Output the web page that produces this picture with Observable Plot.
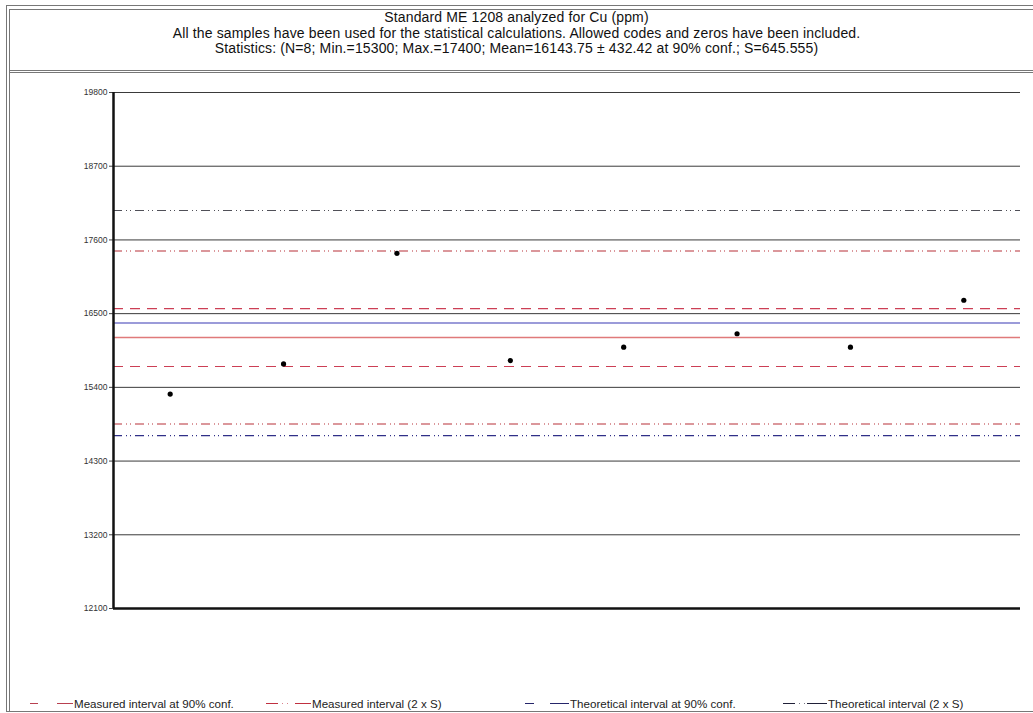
<!DOCTYPE html>
<html>
<head>
<meta charset="utf-8">
<script src="https://cdn.jsdelivr.net/npm/d3@7"></script>
<script src="https://cdn.jsdelivr.net/npm/@observablehq/plot@0.6"></script>
<style>
  html, body { margin: 0; padding: 0; background: #fff; }
  body { width: 1033px; height: 713px; position: relative; overflow: hidden; font-family: "Liberation Sans", Arial, sans-serif; }
  .hl { position: absolute; height: 0; border-top: 1px solid #777; }
  .vl { position: absolute; width: 0; border-left: 1px solid #777; }
  #title { position: absolute; left: 0; width: 1033px; top: 10px; text-align: center; font-size: 14px; line-height: 15.5px; letter-spacing: 0.14px; color: #111; }
  #chart { position: absolute; left: 0; top: 0; }
  .leg { position: absolute; top: 695px; font-size: 11.6px; color: #222; display: flex; align-items: center; white-space: nowrap; }
  .leg svg { display: block; }
</style>
</head>
<body>
<div id="chart"></div>
<div class="hl" style="left:6px; width:1030px; top:5px;"></div>
<div class="hl" style="left:9px; width:1030px; top:9px;"></div>
<div class="hl" style="left:9px; width:1030px; top:70px;"></div>
<div class="hl" style="left:9px; width:1030px; top:72px;"></div>
<div class="hl" style="left:6px; width:1030px; top:711px;"></div>
<div class="vl" style="left:6px; top:5px; height:706px;"></div>
<div class="vl" style="left:9px; top:9px; height:702px;"></div>
<div id="title"></div>
<div id="legend"></div>
<script>
// ---- Data ----
const titleLines = [
  "Standard ME 1208 analyzed for Cu (ppm)",
  "All the samples have been used for the statistical calculations. Allowed codes and zeros have been included.",
  "Statistics: (N=8; Min.=15300; Max.=17400; Mean=16143.75 \u00b1 432.42 at 90% conf.; S=645.555)"
];
const sampleIndex = [1, 2, 3, 4, 5, 6, 7, 8];
const sampleValues = [15300, 15750, 17400, 15800, 16000, 16200, 16000, 16700];
const yTicks = [12100, 13200, 14300, 15400, 16500, 17600, 18700, 19800];

const refNames  = ["Measured mean", "Measured 90% upper", "Measured 90% lower", "Measured 2S upper", "Measured 2S lower",
                   "Theoretical value", "Theoretical 2S upper", "Theoretical 2S lower"];
const refValues = [16143.75, 16576.17, 15711.33, 17434.86, 14852.64, 16360, 18040, 14680];
const refKinds  = ["mean", "ci", "ci", "s2", "s2", "tmean", "t2up", "t2low"];

const legendLabels = ["Measured interval at 90% conf.", "Measured interval (2 x S)", "Theoretical interval at 90% conf.", "Theoretical interval (2 x S)"];

// ---- Styles ----
const kindStroke = {mean: "#e07a7a", ci: "#cc3f55", s2: "#b83038", tmean: "#7a7acc", t2up: "#505058", t2low: "#303088"};
const kindDash = {mean: null, ci: "10,7", s2: "9,4,1,3,1,4", tmean: null, t2up: "9,4,1,3,1,4", t2low: "9,4,1,3,1,4"};
const kindWidth = {mean: 1.4, ci: 1.2, s2: 1.1, tmean: 1.4, t2up: 1.1, t2low: 1.1};

const refs = refValues.map((v, i) => ({name: refNames[i], value: v, kind: refKinds[i]}));
const samples = sampleIndex.map((s, i) => ({sample: s, value: sampleValues[i]}));

document.getElementById("title").innerHTML = titleLines.map(t => `<div>${t}</div>`).join("");

const W = 1033, H = 713;
const plot = Plot.plot({
  width: W,
  height: H,
  marginTop: 92,
  marginBottom: 105,
  marginLeft: 113,
  marginRight: 13,
  style: {fontFamily: "Liberation Sans, Arial, sans-serif", background: "transparent"},
  x: {domain: [0.5, 8.5], axis: null},
  y: {domain: [12100, 19800], axis: null},
  marks: [
    Plot.ruleY(yTicks, {stroke: "#3a3a3a", strokeWidth: 1}),
    Plot.axisY({ticks: yTicks, label: null, tickSize: 4, tickPadding: 2, fontSize: 8.5, color: "#333", tickFormat: d => String(d), stroke: "#444"}),
    ...refs.map(r => Plot.ruleY([r.value], {
      stroke: kindStroke[r.kind],
      strokeWidth: kindWidth[r.kind],
      strokeDasharray: kindDash[r.kind] ?? undefined
    })),
    Plot.ruleX([0.5], {stroke: "#111", strokeWidth: 2.5}),
    Plot.ruleY([12100], {stroke: "#111", strokeWidth: 2.5}),
    Plot.dot(samples, {x: "sample", y: "value", r: 2.6, fill: "#000", stroke: "none"})
  ]
});
document.getElementById("chart").appendChild(plot);

// ---- Legend ----
const legendItems = [
  {left: 30, color: "#b84050", dots: false, seg1: [0, 8], seg2: [27, 43]},
  {left: 266, color: "#c03040", dots: true, seg1: [0, 12], seg2: [29, 45]},
  {left: 525, color: "#26266a", dots: false, seg1: [0, 9], seg2: [25, 44]},
  {left: 783, color: "#202038", dots: true, seg1: [0, 12], seg2: [24, 44]}
];
const legend = document.getElementById("legend");
legendItems.forEach((it, i) => {
  const d = document.createElement("div");
  d.className = "leg";
  d.style.left = it.left + "px";
  const w = it.seg2[1] + 1;
  const dots = it.dots
    ? `<line x1="${it.seg1[1] + 4}" x2="${it.seg1[1] + 5}" y1="8.5" y2="8.5" stroke="${it.color}" stroke-width="1" opacity="0.6"/><line x1="${it.seg1[1] + 9}" x2="${it.seg1[1] + 10}" y1="8.5" y2="8.5" stroke="${it.color}" stroke-width="1" opacity="0.6"/>`
    : "";
  d.innerHTML = `<svg width="${w}" height="16">
    <line x1="${it.seg1[0]}" x2="${it.seg1[1]}" y1="8.5" y2="8.5" stroke="${it.color}" stroke-width="1"/>
    ${dots}
    <line x1="${it.seg2[0]}" x2="${it.seg2[1]}" y1="8.5" y2="8.5" stroke="${it.color}" stroke-width="1"/>
  </svg><span>${legendLabels[i]}</span>`;
  legend.appendChild(d);
});
</script>
</body>
</html>
